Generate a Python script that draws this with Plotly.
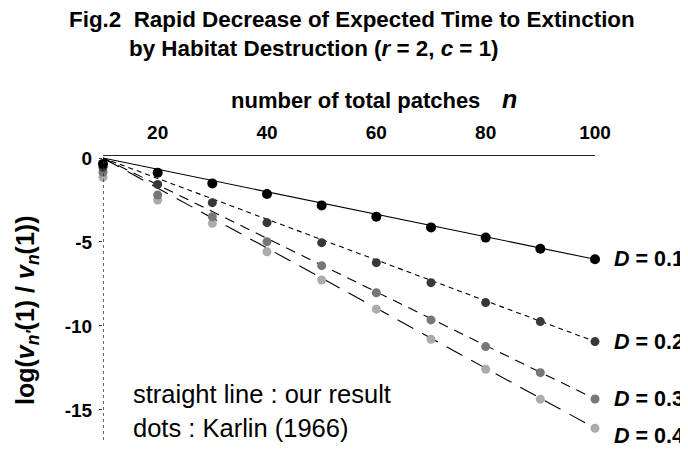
import plotly.graph_objects as go

# ---------------- data ----------------
n_values = [10, 20, 30, 40, 50, 60, 70, 80, 90, 100]

# dots : Karlin (1966)
karlin_d01 = [-0.35, -0.87, -1.51, -2.14, -2.82, -3.49, -4.13, -4.74, -5.40, -6.03]
karlin_d02 = [-0.55, -1.57, -2.66, -3.85, -5.04, -6.23, -7.42, -8.61, -9.74, -10.93]
karlin_d03 = [-0.85, -2.20, -3.49, -4.98, -6.41, -8.02, -9.64, -11.23, -12.78, -14.35]
karlin_d04 = [-1.15, -2.50, -3.89, -5.58, -7.26, -9.00, -10.79, -12.58, -14.36, -16.09]

# straight lines : our result
theory_n = [10, 100]
theory_d01 = [0.0, -6.03]
theory_d02 = [0.0, -10.93]
theory_d03 = [0.0, -14.35]
theory_d04 = [0.0, -16.09]

d_labels = ["0.1", "0.2", "0.3", "0.4"]
x_ticks = [20, 40, 60, 80, 100]
y_ticks = [0, -5, -10, -15]
y_tick_labels = ["0", "-5", "-10", "-15"]

# ---------------- geometry helpers ----------------
# The page body adds an 8px margin, so figure coordinates = screen - 8.
OFF = 8
W, H = 688, 450
PLOT_L, PLOT_R, PLOT_T, PLOT_B = 103, 595, 156, 440   # wanted screen positions
ML = PLOT_L - OFF
MR = W - (PLOT_R - OFF)
MT = PLOT_T - OFF
MB = H - (PLOT_B - OFF)
PW, PH = W - ML - MR, H - MT - MB


def px_x(px):
    return (px - OFF - ML) / PW


def px_y(py):
    return (H - MB - (py - OFF)) / PH


FONT = "Liberation Sans"

fig = go.Figure()

series = [
    (theory_d01, karlin_d01, "solid", "#000000", 10, "#000000"),
    (theory_d02, karlin_d02, "5px,4px", "#000000", 9, "#383838"),
    (theory_d03, karlin_d03, "10px,7px", "#000000", 9, "#777777"),
    (theory_d04, karlin_d04, "18px,10px", "#000000", 9, "#ababab"),
]

for th, ka, dash, lc, ms, mc in series:
    fig.add_trace(go.Scatter(
        x=theory_n, y=th, mode="lines",
        line=dict(color=lc, width=1.1, dash=dash),
        cliponaxis=False, showlegend=False, hoverinfo="skip"))

for th, ka, dash, lc, ms, mc in reversed(series):
    fig.add_trace(go.Scatter(
        x=n_values, y=ka, mode="markers",
        marker=dict(size=ms, color=mc, line=dict(width=0)),
        cliponaxis=False, showlegend=False))

# dotted vertical axis
fig.add_shape(type="line", xref="x", yref="paper", x0=10, x1=10, y0=0, y1=0.99,
              line=dict(color="#333333", width=1.5, dash="dot"))

bold = lambda s: dict(family=FONT, size=s, color="black", weight="bold")

annotations = []
# title lines
annotations.append(dict(
    text="Fig.2\u00a0 Rapid Decrease of Expected Time to Extinction",
    xref="paper", yref="paper", x=px_x(67), y=px_y(19), xanchor="left", yanchor="middle",
    showarrow=False, font=bold(22.4)))
annotations.append(dict(
    text="by Habitat Destruction (<i>r</i> = 2, <i>c</i> = 1)",
    xref="paper", yref="paper", x=px_x(127), y=px_y(49), xanchor="left", yanchor="middle",
    showarrow=False, font=bold(22.4)))
# x axis title
annotations.append(dict(
    text="number of total patches",
    xref="paper", yref="paper", x=px_x(482), y=px_y(100), xanchor="right", yanchor="middle",
    showarrow=False, font=bold(22)))
annotations.append(dict(
    text="<i>n</i>",
    xref="paper", yref="paper", x=px_x(500), y=px_y(99), xanchor="left", yanchor="middle",
    showarrow=False, font=bold(25)))
# y axis title
annotations.append(dict(
    text="log(<i>v</i><sub><i>n'</i></sub>(1) / <i>v</i><sub><i>n</i></sub>(1))",
    xref="paper", yref="paper", x=px_x(27), y=px_y(310), xanchor="center", yanchor="middle",
    textangle=-90, showarrow=False, font=bold(25)))
# note
annotations.append(dict(
    text="straight line : our result",
    xref="paper", yref="paper", x=px_x(131), y=px_y(394), xanchor="left", yanchor="middle",
    showarrow=False, font=dict(family=FONT, size=25.5, color="black")))
annotations.append(dict(
    text="dots : Karlin (1966)",
    xref="paper", yref="paper", x=px_x(131), y=px_y(428), xanchor="left", yanchor="middle",
    showarrow=False, font=dict(family=FONT, size=25.5, color="black")))
# D labels
ends = [karlin_d01[-1], karlin_d02[-1], karlin_d03[-1], karlin_d04[-1]]
shifts = [0, 0, 0, -8]
for lab, yv, sh in zip(d_labels, ends, shifts):
    annotations.append(dict(
        text="<i>D</i> = " + lab, xref="x", yref="y", x=n_values[-1], y=yv,
        xanchor="left", yanchor="middle", xshift=17, yshift=sh, showarrow=False,
        font=bold(21.5)))

fig.update_layout(
    width=W, height=H,
    margin=dict(l=ML, r=MR, t=MT, b=MB, autoexpand=False),
    plot_bgcolor="white", paper_bgcolor="white",
    annotations=annotations,
    xaxis=dict(range=[10, 100], side="top", tickvals=x_ticks, showgrid=False,
               zeroline=False, showline=True, linecolor="#222222", linewidth=1,
               ticks="", ticklabelstandoff=8, automargin=False,
               tickfont=bold(19)),
    yaxis=dict(range=[-16.79, 0.12], tickvals=y_ticks, ticktext=y_tick_labels,
               showgrid=False, zeroline=False, showline=False, ticks="outside",
               ticklen=3, tickcolor="#333333", ticklabelstandoff=3, automargin=False,
               tickfont=bold(19)),
)

fig.write_html("out.html")
